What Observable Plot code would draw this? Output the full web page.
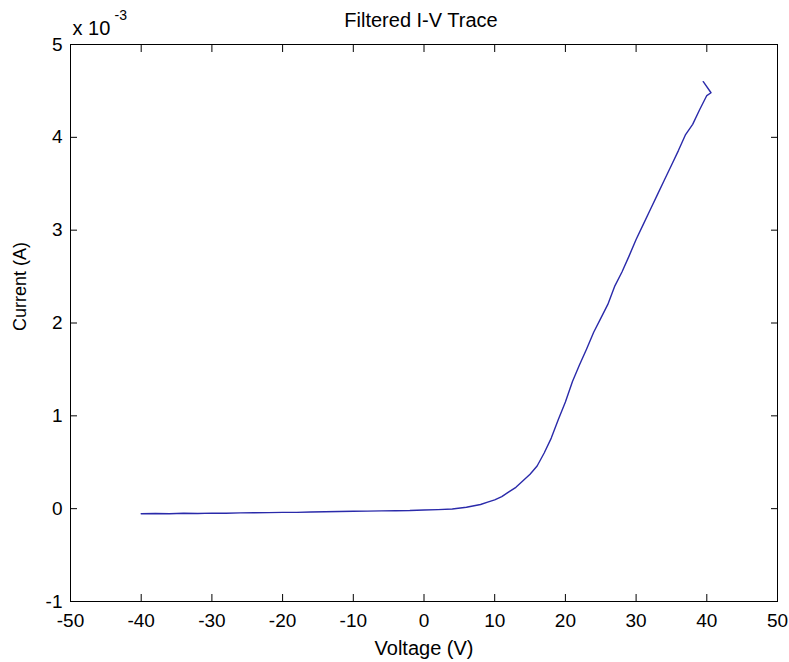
<!DOCTYPE html>
<html>
<head>
<meta charset="utf-8">
<script src="https://cdn.jsdelivr.net/npm/d3@7"></script>
<script src="https://cdn.jsdelivr.net/npm/@observablehq/plot@0.6"></script>
<style>
  html, body { margin: 0; padding: 0; background: #ffffff; }
  svg { display: block; }
</style>
</head>
<body>
<div id="chart"></div>
<script>
const titleText = "Filtered I-V Trace";
const xLabel = "Voltage (V)";
const yLabel = "Current (A)";
const xTicks = [-50, -40, -30, -20, -10, 0, 10, 20, 30, 40, 50];
const yTicks = [-1, 0, 1, 2, 3, 4, 5];
const voltage = [-40, -38, -36, -34, -32, -30, -28, -26, -24, -22, -20, -18, -16, -14, -12, -10, -8, -6, -4, -2, 0, 2, 4, 6, 8, 9, 10, 11, 12, 13, 14, 15, 16, 17, 18, 19, 20, 21, 22, 23, 24, 25, 26, 27, 28, 29, 30, 31, 32, 33, 34, 35, 36, 37, 38, 39, 40, 40.6, 39.5];
// current in units of 1e-3 A
const current = [-0.055, -0.052, -0.055, -0.050, -0.052, -0.048, -0.050, -0.045, -0.044, -0.043, -0.040, -0.040, -0.036, -0.034, -0.030, -0.028, -0.026, -0.024, -0.022, -0.020, -0.014, -0.010, -0.003, 0.015, 0.045, 0.070, 0.095, 0.13, 0.18, 0.23, 0.30, 0.37, 0.46, 0.60, 0.76, 0.96, 1.15, 1.37, 1.55, 1.72, 1.90, 2.05, 2.20, 2.40, 2.55, 2.72, 2.90, 3.06, 3.22, 3.38, 3.54, 3.70, 3.86, 4.03, 4.14, 4.30, 4.45, 4.48, 4.60];

const data = voltage.map((v, i) => ({v, c: current[i]}));
const font = "Liberation Sans, Arial, sans-serif";

const chart = Plot.plot({
  width: 789,
  height: 662,
  marginLeft: 70,
  marginRight: 12,
  marginTop: 44,
  marginBottom: 61,
  style: {fontFamily: font, fontSize: "19px", color: "#000", background: "#fff"},
  x: {domain: [-50, 50], ticks: xTicks},
  y: {domain: [-1, 5], ticks: yTicks},
  marks: [
    Plot.frame({stroke: "#000", strokeWidth: 1}),
    Plot.axisX(xTicks, {anchor: "bottom", tickSize: -7, tickFormat: () => "", label: null, stroke: "#000"}),
    Plot.axisX(xTicks, {anchor: "top", tickSize: -7, tickFormat: () => "", label: null, stroke: "#000"}),
    Plot.axisY(yTicks, {anchor: "left", tickSize: -7, tickFormat: () => "", label: null, stroke: "#000"}),
    Plot.axisY(yTicks, {anchor: "right", tickSize: -7, tickFormat: () => "", label: null, stroke: "#000"}),
    Plot.axisX(xTicks, {anchor: "bottom", tickSize: 0, tickPadding: 12, label: null, fontSize: 19, fill: "#000", tickFormat: d => String(d)}),
    Plot.axisY(yTicks, {anchor: "left", tickSize: 0, tickPadding: 8, label: null, fontSize: 19, fill: "#000", tickFormat: d => String(d)}),
    Plot.line(data, {x: "v", y: "c", stroke: "#2a2aaa", strokeWidth: 1.4}),
    Plot.text([titleText], {frameAnchor: "top", dx: -3, dy: -31.5, fontSize: 20, fill: "#000"}),
    Plot.text([xLabel], {frameAnchor: "bottom", dy: 53.5, fontSize: 20, fill: "#000"}),
    Plot.text([yLabel], {frameAnchor: "left", dx: -50, dy: 8, rotate: -90, fontSize: 18, fill: "#000"}),
    Plot.text(["x 10"], {frameAnchor: "top-left", dx: 2, dy: -24, textAnchor: "start", fontSize: 20, fill: "#000"}),
    Plot.text(["-3"], {frameAnchor: "top-left", dx: 44, dy: -34, textAnchor: "start", fontSize: 14, fill: "#000"})
  ]
});
document.getElementById("chart").appendChild(chart);
</script>
</body>
</html>
